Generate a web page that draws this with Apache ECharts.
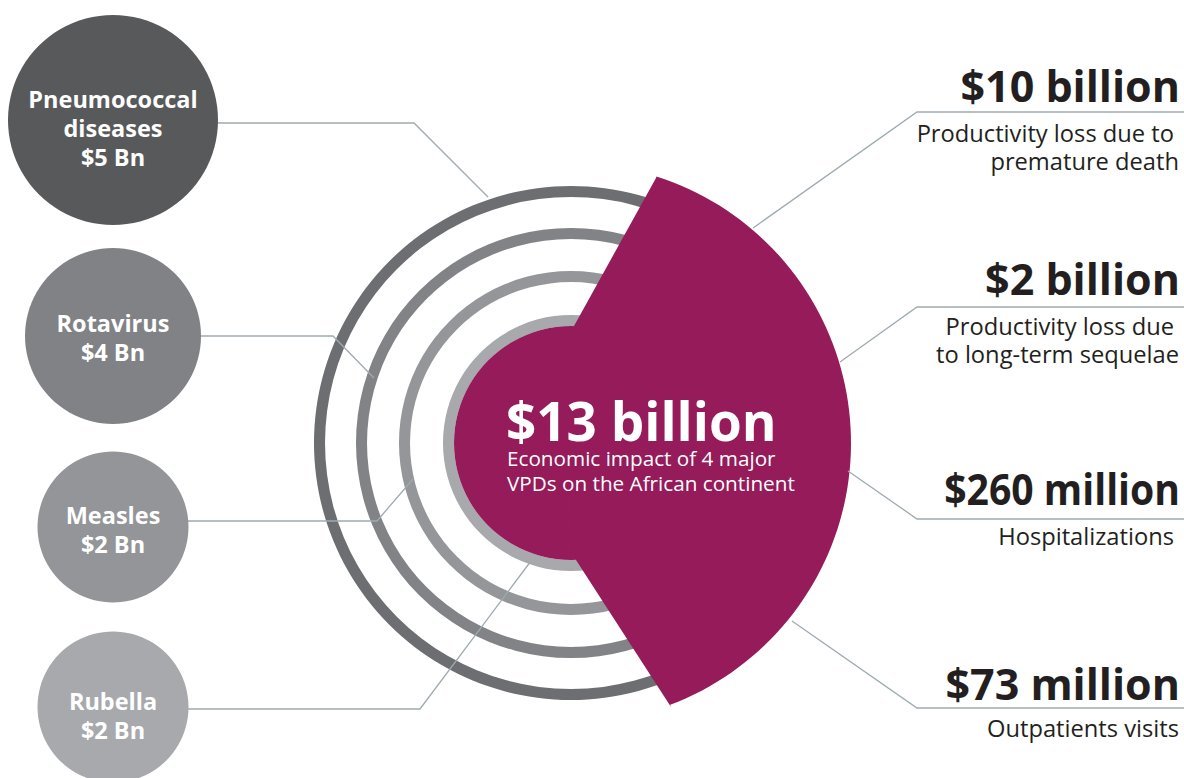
<!DOCTYPE html>
<html><head><meta charset="utf-8">
<script src="https://cdn.jsdelivr.net/npm/echarts@6/dist/echarts.min.js"></script>
<style>html,body{margin:0;padding:0;background:#fff}#c{width:1184px;height:778px}</style>
</head><body><div id="c"></div>
<script>
// ---------- DATA ----------
const diseases = ['Pneumococcal\ndiseases', 'Rotavirus', 'Measles', 'Rubella'];
const diseaseCostBn = [5, 4, 2, 2];
const costValues = ['$10 billion', '$2 billion', '$260 million', '$73 million'];
const costDescriptions = [
  ['Productivity loss due to', 'premature death'],
  ['Productivity loss due', 'to long-term sequelae'],
  ['Hospitalizations'],
  ['Outpatients visits']
];
const totalValue = '$13 billion';
const totalDescription = ['Economic impact of 4 major', 'VPDs on the African continent'];

// ---------- LAYOUT / STYLE (pixel space 1184x778) ----------
const FONT = "'Open Sans', 'Noto Sans', sans-serif";
const circleLayout = [
  {x: 113, y: 120, d: 210, dy: 8},
  {x: 113, y: 336, d: 176, dy: 1},
  {x: 113, y: 527, d: 151, dy: 2},
  {x: 113, y: 707, d: 151, dy: 8}
];
const circleColors = ['#58595b', '#808285', '#939598', '#a7a9ac'];
const ringCenter = [571, 443];
const ringRadii = [[246, 257], [204, 215], [161, 172], [117, 128]];
const ringColors = ['#6d6e71', '#828386', '#949699', '#a7a9ac'];
const magenta = '#951b5a';
const magentaShape = {r: 117, R: 280, top: [574, 326], corner1: [656, 178], corner2: [671, 707], bottom: [576, 560]};
const leftConnectors = [
  [[217, 123], [414, 123], [488, 197]],
  [[200, 336], [333, 336], [374, 378]],
  [[188, 521], [377, 521], [413, 479]],
  [[188, 709], [420, 709], [531, 561]]
];
const rightConnectors = [
  [[1184, 112], [917, 112], [753, 228]],
  [[1184, 307], [917, 307], [840, 362]],
  [[1184, 519], [917, 519], [848, 471]],
  [[1184, 708], [917, 708], [792, 621]]
];
const rightValueBaselines = [102, 295, 505, 700];
const rightValueScaleX = [1, 1, 0.91, 1];
const rightDescBaselines = [[142, 170], [335, 363], [545], [737]];
const rightDescX = [[1174, 1179], [1174, 1179], [1174], [1179]];

const chart = echarts.init(document.getElementById('c'), null, {renderer: 'svg'});

function baseText(x, baseline, text, size, weight, color, align, sx) {
  return {
    type: 'text', x: x, y: baseline - 0.388 * size, silent: true, z: 100, scaleX: sx || 1,
    style: {text: text, font: weight + ' ' + size + 'px ' + FONT, fill: color, align: align, verticalAlign: 'middle'}
  };
}

const graphics = [];
costValues.forEach((v, i) => {
  graphics.push(baseText(1180, rightValueBaselines[i], v, 43, 'bold', '#231f20', 'right', rightValueScaleX[i]));
  costDescriptions[i].forEach((t, j) => {
    graphics.push(baseText(rightDescX[i][j], rightDescBaselines[i][j], t, 23.7, 'normal', '#231f20', 'right'));
  });
});
graphics.push(baseText(506, 441, totalValue, 53, 'bold', '#ffffff', 'left'));
totalDescription.forEach((t, j) => graphics.push(baseText(507, 466 + j * 25, t, 20.7, 'normal', '#ffffff', 'left')));

const series = [];
// rings (one per disease)
diseases.forEach((d, i) => {
  series.push({
    type: 'pie', silent: true, z: 1, center: ringCenter, radius: ringRadii[i],
    label: {show: false}, labelLine: {show: false}, emphasis: {disabled: true},
    itemStyle: {color: ringColors[i]},
    data: [{name: d, value: diseaseCostBn[i]}]
  });
});
// magenta total shape
series.push({
  type: 'custom', coordinateSystem: 'cartesian2d', z: 3, silent: true,
  data: [[ringCenter[0], ringCenter[1]]],
  renderItem: function (params, api) {
    const cx = api.value(0), cy = api.value(1);
    const c = api.coord([cx, cy]);
    const s = magentaShape;
    const pts = [api.coord(s.top)];
    const a1 = Math.atan2(s.corner1[1] - cy, s.corner1[0] - cx);
    const a2 = Math.atan2(s.corner2[1] - cy, s.corner2[0] - cx);
    pts.push(api.coord(s.corner1));
    for (let k = 0; k <= 80; k++) {
      const a = a1 + (a2 - a1) * k / 80;
      pts.push(api.coord([cx + s.R * Math.cos(a), cy + s.R * Math.sin(a)]));
    }
    pts.push(api.coord(s.corner2));
    pts.push(api.coord(s.bottom));
    return {type: 'group', children: [
      {type: 'circle', shape: {cx: c[0], cy: c[1], r: s.r}, style: {fill: magenta}},
      {type: 'polygon', shape: {points: pts}, style: {fill: magenta}}
    ]};
  }
});
// connectors
series.push({
  type: 'lines', coordinateSystem: 'cartesian2d', polyline: true, z: 4, silent: true,
  lineStyle: {color: '#9eabb0', width: 1.3, opacity: 1},
  data: leftConnectors.concat(rightConnectors).map(c => ({coords: c}))
});
// disease circles
series.push({
  type: 'scatter', z: 5, silent: true,
  data: diseases.map((d, i) => ({
    name: d,
    value: [circleLayout[i].x, circleLayout[i].y, diseaseCostBn[i]],
    symbolSize: circleLayout[i].d,
    itemStyle: {color: circleColors[i], opacity: 1},
    label: {offset: [0, circleLayout[i].dy]}
  })),
  label: {
    show: true, position: 'inside', color: '#fff', fontFamily: FONT, fontWeight: 'bold',
    fontSize: 23.5, lineHeight: 29, align: 'center',
    formatter: p => p.name + '\n$' + p.value[2] + ' Bn'
  }
});

chart.setOption({
  animation: false,
  grid: {left: 0, right: 0, top: 0, bottom: 0},
  xAxis: {type: 'value', min: 0, max: 1184, show: false},
  yAxis: {type: 'value', min: 0, max: 778, inverse: true, show: false},
  graphic: graphics,
  series: series
});
</script></body></html>
